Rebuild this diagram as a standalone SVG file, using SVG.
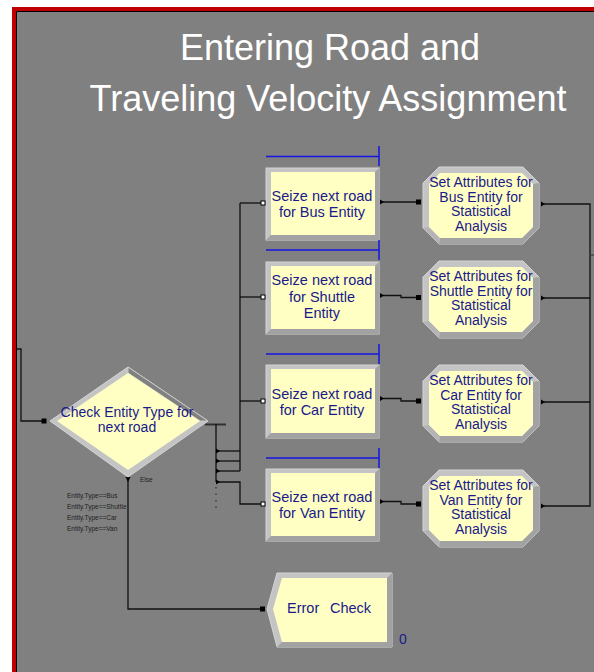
<svg xmlns="http://www.w3.org/2000/svg" width="594" height="672" viewBox="0 0 594 672">
<defs>
<style>
.title{font-family:"Liberation Sans",Arial,sans-serif;font-size:36px;fill:#ffffff;text-anchor:middle}
.lbl{font-family:"Liberation Sans",Arial,sans-serif;font-size:14.5px;fill:#1a1a8a;text-anchor:middle}
.lbl13{font-family:"Liberation Sans",Arial,sans-serif;font-size:14px;fill:#1a1a8a;text-anchor:middle}
.small{font-family:"Liberation Sans",Arial,sans-serif;font-size:6.5px;fill:#1e1e1e}
.wire{fill:none;stroke:#101010;stroke-width:1.3}
.blue{fill:none;stroke:#1414e6;stroke-width:1.5}
.yel{fill:#ffffc4}
.lt{fill:#c4c4c4;stroke:#d4d4d4;stroke-width:1}
.dk{fill:#a2a2a2}
.port{fill:#000}
.hport{fill:#fff;stroke:#000;stroke-width:1}
</style>
<polygon id="tri" points="0,-2.5 4,0 0,2.5" class="port"/>
</defs>
<rect width="594" height="672" fill="#ffffff"/>
<rect x="14" y="9" width="600" height="700" fill="#808080" stroke="#c00000" stroke-width="4"/>
<polyline points="16.5,700 16.5,11.5 600,11.5" fill="none" stroke="#000" stroke-width="1"/>

<g id="title">
<text class="title" x="330" y="60">Entering Road and</text>
<text class="title" x="328" y="111">Traveling Velocity Assignment</text>
</g>

<g id="connectors">
<polyline class="wire" points="16,349 21,349 21,421 44,421"/>
<line x1="205" y1="424.5" x2="226" y2="424.5" stroke="#303030" stroke-width="2"/>
<line class="wire" x1="216" y1="424" x2="216" y2="482"/>
<line class="wire" x1="216" y1="451" x2="240" y2="451"/>
<line class="wire" x1="216" y1="461" x2="240" y2="461"/>
<line class="wire" x1="216" y1="471" x2="240" y2="471"/>
<polyline class="wire" points="216,482 240,482 240,504 261,504"/>
<line class="wire" x1="240" y1="203" x2="240" y2="471"/>
<line class="wire" x1="240" y1="203" x2="261" y2="203"/>
<line class="wire" x1="240" y1="297" x2="261" y2="297"/>
<line class="wire" x1="240" y1="401" x2="261" y2="401"/>
<line x1="216" y1="487" x2="216" y2="509" stroke="#202020" stroke-width="1" stroke-dasharray="1.5,5"/>
<use href="#tri" x="216" y="451"/>
<use href="#tri" x="216" y="461"/>
<use href="#tri" x="216" y="471"/>
<use href="#tri" x="216" y="482"/>
<polyline class="wire" points="128,480 128,609 261,609"/>
<polygon class="port" points="125.5,477 130.5,477 128,482"/>
<line class="wire" x1="383" y1="202" x2="417" y2="202"/>
<polyline class="wire" points="383,295.5 401,295.5 401,297.5 417,297.5"/>
<polyline class="wire" points="383,398.5 401,398.5 401,401 417,401"/>
<polyline class="wire" points="383,501.5 401,501.5 401,504 417,504"/>
<use href="#tri" x="380" y="202"/>
<use href="#tri" x="380" y="295.5"/>
<use href="#tri" x="380" y="398.5"/>
<use href="#tri" x="380" y="501.5"/>
<rect class="port" x="416" y="199.5" width="5" height="5"/>
<rect class="port" x="416" y="295" width="5" height="5"/>
<rect class="port" x="416" y="398.5" width="5" height="5"/>
<rect class="port" x="416" y="501.5" width="5" height="5"/>
<polyline class="wire" points="544,204 590,204 590,506 544,506"/>
<line class="wire" x1="544" y1="298" x2="590" y2="298"/>
<line class="wire" x1="544" y1="402" x2="590" y2="402"/>
<line x1="590" y1="255" x2="594" y2="255" stroke="#404040" stroke-width="1.3"/>
<use href="#tri" x="541" y="204"/>
<use href="#tri" x="541" y="298"/>
<use href="#tri" x="541" y="402"/>
<use href="#tri" x="541" y="506"/>
</g>

<g id="check-entity-type">
<polygon class="lt" points="50,421 128,367 208,421 128,477"/>
<polygon points="128,367 208,421 200,421 128,373" fill="#808080" stroke="#c8c8c8" stroke-width="1"/>
<polygon class="yel" points="57,421 128,373 200,421 128,470"/>
<rect class="port" x="41.5" y="418.5" width="5" height="5"/>
<text class="lbl13" x="127" y="417">Check Entity Type for</text>
<text class="lbl13" x="127" y="431.5">next road</text>
<text class="small" x="140" y="482">Else</text>
<text class="small" x="67" y="498">Entity.Type==Bus</text>
<text class="small" x="67" y="509">Entity.Type==Shuttle</text>
<text class="small" x="67" y="520">Entity.Type==Car</text>
<text class="small" x="67" y="531">Entity.Type==Van</text>
</g>

<g id="seize-bus">
<line class="blue" x1="266" y1="156.5" x2="379" y2="156.5"/>
<line class="blue" x1="379" y1="146" x2="379" y2="166"/>
<rect class="lt" x="266" y="168" width="113" height="72"/>
<polygon class="dk" points="379,168 379,240 266,240 271,235 375,235 375,172"/>
<rect class="yel" x="271" y="172" width="104" height="63"/>
<rect class="hport" x="261" y="201" width="4" height="4"/>
<text class="lbl" x="322" y="201">Seize next road</text>
<text class="lbl" x="322" y="217">for Bus Entity</text>
</g>

<g id="seize-shuttle">
<line class="blue" x1="266" y1="250" x2="379" y2="250"/>
<line class="blue" x1="379" y1="240" x2="379" y2="260"/>
<rect class="lt" x="266" y="262" width="113" height="72"/>
<polygon class="dk" points="379,262 379,334 266,334 271,329 375,329 375,266"/>
<rect class="yel" x="271" y="266" width="104" height="63"/>
<rect class="hport" x="261" y="295" width="4" height="4"/>
<text class="lbl" x="322" y="285">Seize next road</text>
<text class="lbl" x="322" y="302">for Shuttle</text>
<text class="lbl" x="322" y="318">Entity</text>
</g>

<g id="seize-car">
<line class="blue" x1="266" y1="354" x2="379" y2="354"/>
<line class="blue" x1="379" y1="344" x2="379" y2="364"/>
<rect class="lt" x="266" y="365" width="113" height="73"/>
<polygon class="dk" points="379,365 379,438 266,438 271,433 375,433 375,369"/>
<rect class="yel" x="271" y="369" width="104" height="64"/>
<rect class="hport" x="261" y="399" width="4" height="4"/>
<text class="lbl" x="322" y="398.5">Seize next road</text>
<text class="lbl" x="322" y="414.5">for Car Entity</text>
</g>

<g id="seize-van">
<line class="blue" x1="266" y1="458" x2="379" y2="458"/>
<line class="blue" x1="379" y1="448" x2="379" y2="468"/>
<rect class="lt" x="266" y="469" width="113" height="72"/>
<polygon class="dk" points="379,469 379,541 266,541 271,536 375,536 375,473"/>
<rect class="yel" x="271" y="473" width="104" height="63"/>
<rect class="hport" x="261" y="502" width="4" height="4"/>
<text class="lbl" x="322" y="502">Seize next road</text>
<text class="lbl" x="322" y="518">for Van Entity</text>
</g>

<g id="assign-bus" transform="translate(0,167)">
<polygon class="lt" points="439,0 523,0 539,16 539,61 523,77 439,77 423,61 423,16"/>
<polygon class="dk" points="539,16 539,61 523,77 439,77 440,71 522,71 533,60 533,17"/>
<polygon fill="#b4b4b4" points="423,61 439,77 440,71 429,60"/>
<polygon class="yel" points="440,6 522,6 533,17 533,60 522,71 440,71 429,60 429,17"/>
<text class="lbl13" x="481" y="20">Set Attributes for</text>
<text class="lbl13" x="481" y="34.5">Bus Entity for</text>
<text class="lbl13" x="481" y="49">Statistical</text>
<text class="lbl13" x="481" y="63.5">Analysis</text>
</g>

<g id="assign-shuttle" transform="translate(0,261)">
<polygon class="lt" points="439,0 523,0 539,16 539,61 523,77 439,77 423,61 423,16"/>
<polygon class="dk" points="539,16 539,61 523,77 439,77 440,71 522,71 533,60 533,17"/>
<polygon fill="#b4b4b4" points="423,61 439,77 440,71 429,60"/>
<polygon class="yel" points="440,6 522,6 533,17 533,60 522,71 440,71 429,60 429,17"/>
<text class="lbl13" x="481" y="20">Set Attributes for</text>
<text class="lbl13" x="481" y="34.5">Shuttle Entity for</text>
<text class="lbl13" x="481" y="49">Statistical</text>
<text class="lbl13" x="481" y="63.5">Analysis</text>
</g>

<g id="assign-car" transform="translate(0,365)">
<polygon class="lt" points="439,0 523,0 539,16 539,61 523,77 439,77 423,61 423,16"/>
<polygon class="dk" points="539,16 539,61 523,77 439,77 440,71 522,71 533,60 533,17"/>
<polygon fill="#b4b4b4" points="423,61 439,77 440,71 429,60"/>
<polygon class="yel" points="440,6 522,6 533,17 533,60 522,71 440,71 429,60 429,17"/>
<text class="lbl13" x="481" y="20">Set Attributes for</text>
<text class="lbl13" x="481" y="34.5">Car Entity for</text>
<text class="lbl13" x="481" y="49">Statistical</text>
<text class="lbl13" x="481" y="63.5">Analysis</text>
</g>

<g id="assign-van" transform="translate(0,470)">
<polygon class="lt" points="439,0 523,0 539,16 539,61 523,77 439,77 423,61 423,16"/>
<polygon class="dk" points="539,16 539,61 523,77 439,77 440,71 522,71 533,60 533,17"/>
<polygon fill="#b4b4b4" points="423,61 439,77 440,71 429,60"/>
<polygon class="yel" points="440,6 522,6 533,17 533,60 522,71 440,71 429,60 429,17"/>
<text class="lbl13" x="481" y="20">Set Attributes for</text>
<text class="lbl13" x="481" y="34.5">Van Entity for</text>
<text class="lbl13" x="481" y="49">Statistical</text>
<text class="lbl13" x="481" y="63.5">Analysis</text>
</g>

<g id="error-check">
<polygon class="lt" points="267,609 277,573 392,573 392,647 277,647"/>
<polygon class="dk" points="392,573 392,647 277,647 282,642 387,642 387,578"/>
<polygon class="yel" points="273,609 282,578 387,578 387,642 282,642"/>
<rect class="port" x="260" y="606.5" width="5" height="5"/>
<text class="lbl" x="287" y="613" style="text-anchor:start">Error</text>
<text class="lbl" x="330" y="613" style="text-anchor:start">Check</text>
<text class="lbl13" x="399" y="644" style="text-anchor:start">0</text>
</g>
</svg>
